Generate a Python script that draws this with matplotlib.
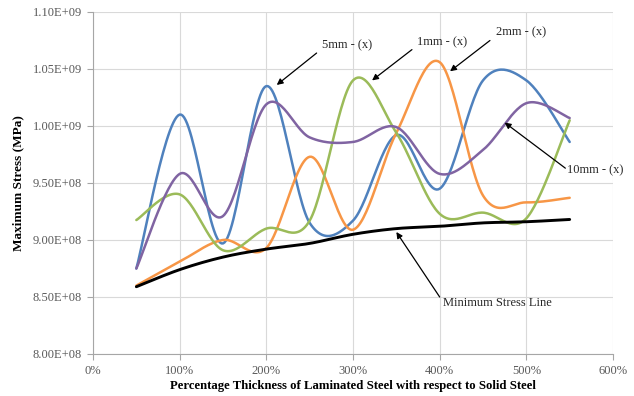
import matplotlib
matplotlib.use("Agg")
import matplotlib.pyplot as plt
import numpy as np
from matplotlib.ticker import FuncFormatter

# thickness of laminated steel relative to solid steel (%)
thickness = [50, 100, 150, 200, 250, 300, 350, 400, 450, 500, 550]

# maximum stress for each lamination size (MPa)
stress_1mm = [9.175e8, 9.40e8, 8.91e8, 9.10e8, 9.17e8, 1.040e9, 9.94e8, 9.23e8, 9.24e8, 9.19e8, 1.005e9]
stress_2mm = [8.60e8, 8.81e8, 9.00e8, 8.93e8, 9.73e8, 9.09e8, 9.94e8, 1.056e9, 9.39e8, 9.33e8, 9.37e8]
stress_5mm = [8.75e8, 1.010e9, 8.97e8, 1.035e9, 9.15e8, 9.17e8, 9.92e8, 9.45e8, 1.040e9, 1.040e9, 9.86e8]
stress_10mm = [8.75e8, 9.58e8, 9.21e8, 1.019e9, 9.90e8, 9.86e8, 9.99e8, 9.58e8, 9.79e8, 1.020e9, 1.007e9]
stress_min = [8.59e8, 8.74e8, 8.85e8, 8.92e8, 8.97e8, 9.05e8, 9.10e8, 9.12e8, 9.15e8, 9.16e8, 9.18e8]

y_ticks = [8.0e8, 8.5e8, 9.0e8, 9.5e8, 1.0e9, 1.05e9, 1.1e9]
x_ticks = [0, 100, 200, 300, 400, 500, 600]


def smooth(x, y, n=30):
    # bezier smoothing like a spreadsheet "smoothed line"
    p = np.column_stack([x, y]).astype(float)
    p = np.vstack([p[0], p, p[-1]])
    out = []
    t = np.linspace(0, 1, n)[:, None]
    for i in range(1, len(p) - 2):
        p0, p1, p2, p3 = p[i - 1], p[i], p[i + 1], p[i + 2]
        c1 = p1 + (p2 - p0) / 6
        c2 = p2 - (p3 - p1) / 6
        seg = ((1 - t) ** 3) * p1 + 3 * ((1 - t) ** 2) * t * c1 \
            + 3 * (1 - t) * t ** 2 * c2 + t ** 3 * p2
        out.append(seg if i == 1 else seg[1:])
    s = np.vstack(out)
    return s[:, 0], s[:, 1]


def main() -> None:
    plt.rcParams["font.family"] = ["Liberation Serif", "DejaVu Serif"]
    fig = plt.figure(figsize=(6.34, 3.96), dpi=100)
    ax = fig.add_axes([0.1467, 0.1061, 0.8202, 0.8636])

    series = [
        (stress_5mm, "#4F81BD", 1.8),
        (stress_2mm, "#F79646", 1.8),
        (stress_1mm, "#9BBB59", 1.8),
        (stress_10mm, "#8064A2", 1.8),
        (stress_min, "black", 2.1),
    ]
    for vals, col, lw in series:
        sx, sy = smooth(thickness, vals)
        ax.plot(sx, sy, color=col, lw=lw, solid_capstyle="round", zorder=3)

    ax.set_xlim(0, 600)
    ax.set_ylim(8.0e8, 1.1e9)
    ax.set_xticks(x_ticks)
    ax.set_yticks(y_ticks)
    ax.xaxis.set_major_formatter(FuncFormatter(lambda v, _: f"{v:.0f}%"))
    ax.yaxis.set_major_formatter(FuncFormatter(lambda v, _: f"{v:.2E}"))
    ax.grid(True, color="#d9d9d9", lw=0.8, zorder=0)
    ax.set_axisbelow(True)
    for s in ["top", "right"]:
        ax.spines[s].set_visible(False)
    for s in ["left", "bottom"]:
        ax.spines[s].set_color("#a6a6a6")
        ax.spines[s].set_linewidth(0.8)
    ax.tick_params(axis="both", direction="out", length=4, width=0.8,
                   color="#a6a6a6", labelsize=9, labelcolor="#595959")
    ax.tick_params(axis="y", pad=4)
    ax.tick_params(axis="x", pad=4)

    ax.set_xlabel("Percentage Thickness of Laminated Steel with respect to Solid Steel",
                  fontsize=9.2, fontweight="bold", labelpad=2)
    ax.set_ylabel("Maximum Stress (MPa)", fontsize=9.5, fontweight="bold", labelpad=6)

    # series labels with pointer arrows
    notes = [
        ("5mm - (x)", (264, 1.071e9), (258, 1.064e9), (212, 1.036e9)),
        ("1mm - (x)", (374, 1.073e9), (368, 1.067e9), (322, 1.040e9)),
        ("2mm - (x)", (465, 1.082e9), (458, 1.075e9), (412, 1.048e9)),
        ("10mm - (x)", (547, 9.61e8), (545, 9.63e8), (475, 1.003e9)),
        ("Minimum Stress Line", (404, 8.45e8), (400, 8.50e8), (350, 9.07e8)),
    ]
    for label, txt_pos, tail, head in notes:
        ax.annotate("", xy=head, xytext=tail,
                    arrowprops=dict(arrowstyle="-|>", color="black", lw=0.9,
                                    mutation_scale=9, shrinkA=0, shrinkB=0),
                    zorder=4)
        ax.text(txt_pos[0], txt_pos[1], label, fontsize=9, color="#262626",
                ha="left", va="center", zorder=5, clip_on=False)

    fig.savefig("out.png", dpi=100)


if __name__ == "__main__":
    main()
